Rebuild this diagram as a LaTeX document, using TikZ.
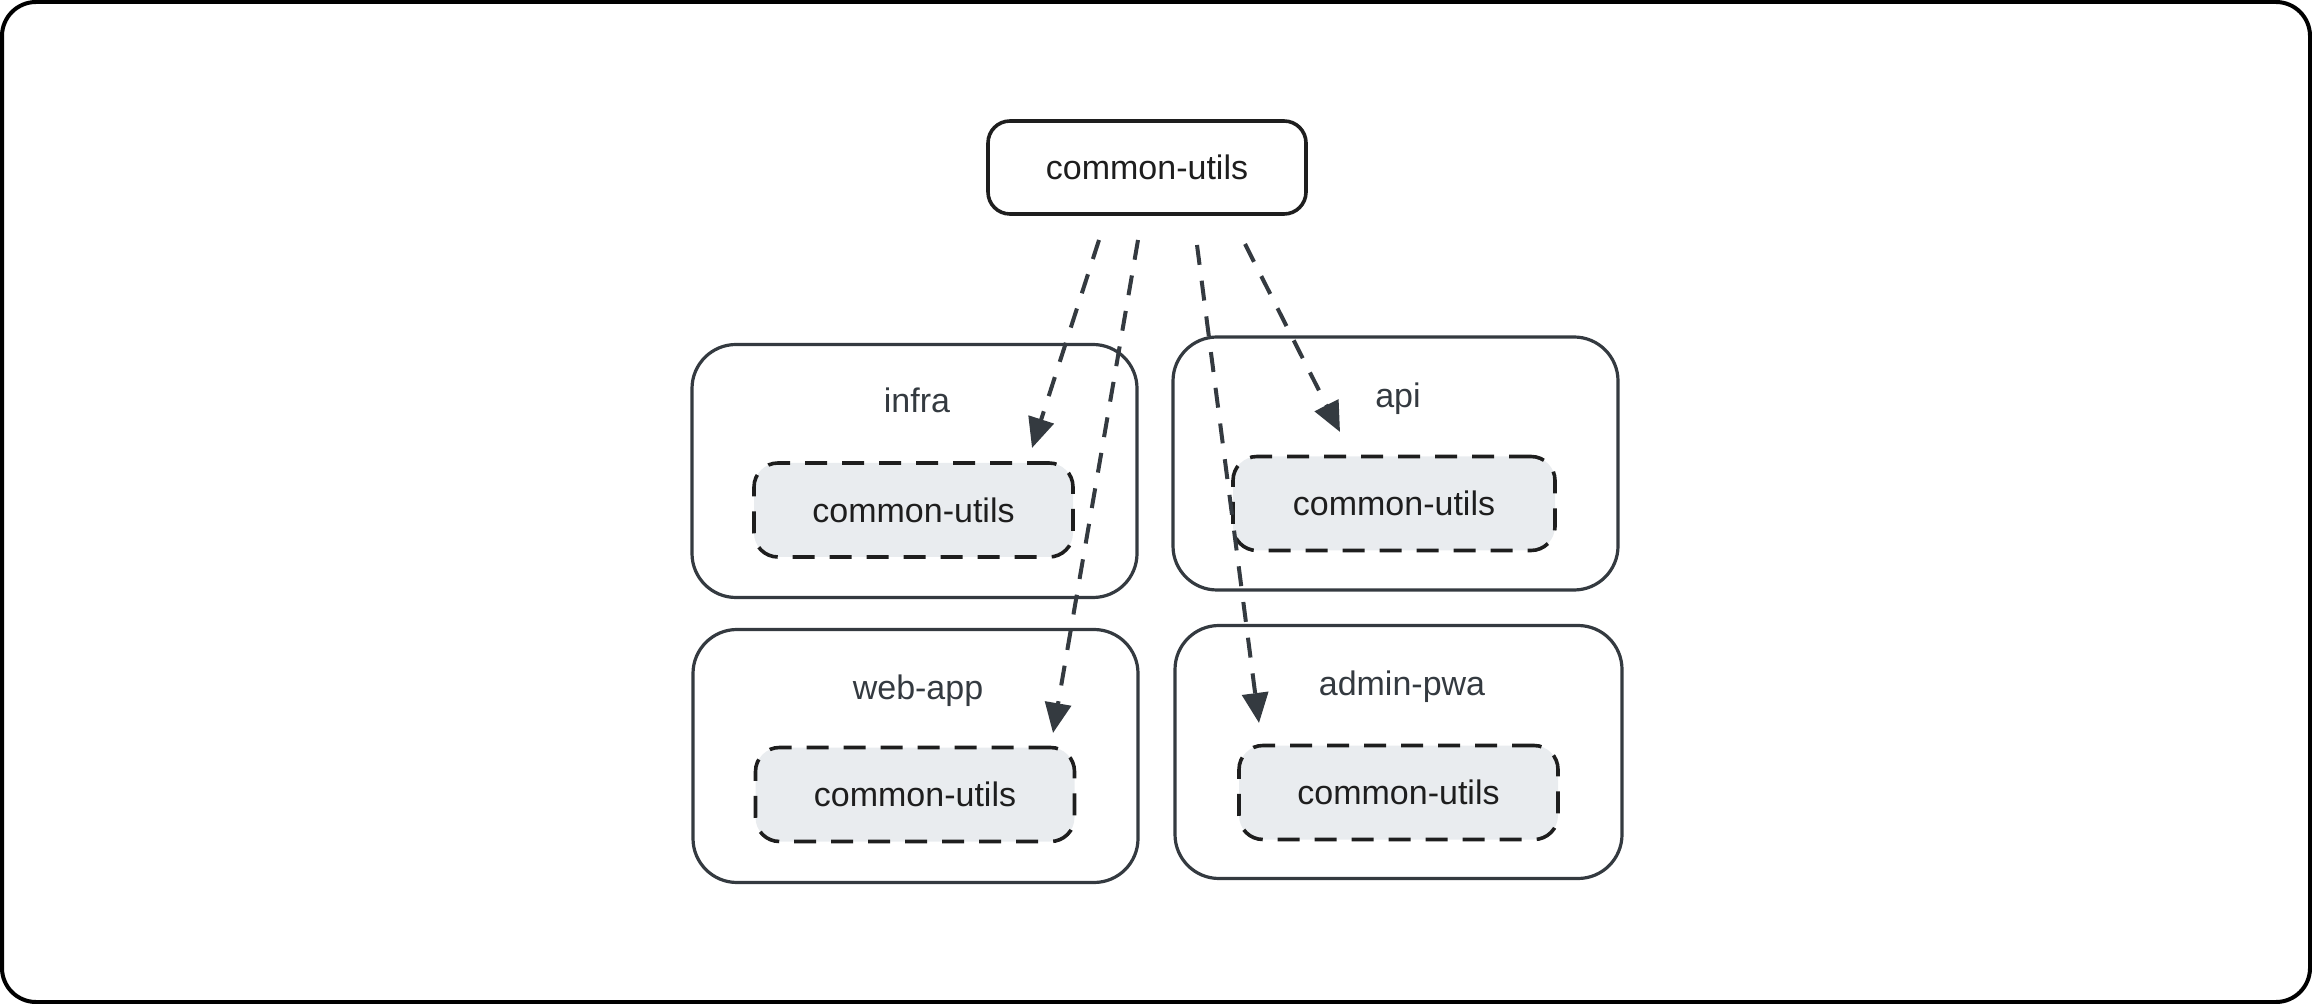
\documentclass[tikz,border=0pt]{standalone}
\usepackage{fontspec}
\setmainfont{Liberation Sans}
\usetikzlibrary{arrows.meta}
\definecolor{slate}{HTML}{343A40}
\definecolor{ink}{HTML}{1E1E1E}
\definecolor{pale}{HTML}{E9ECEF}
\begin{document}
\begin{tikzpicture}[x=0.5pt,y=-0.5pt,
  frame/.style={draw=black, line width=2pt, rounded corners=17pt},
  pkg/.style={draw=slate, line width=1.6pt, rounded corners=22pt, minimum width=222.5pt, minimum height=126.5pt, inner sep=0pt},
  topbox/.style={draw=ink, line width=1.8pt, rounded corners=11pt, minimum width=159pt, minimum height=46.5pt, inner sep=0pt, font=\fontsize{17}{20}\selectfont, text=ink},
  dep/.style={draw=ink, fill=pale, line width=1.8pt, dash pattern=on 11pt off 7.5pt, rounded corners=12pt, minimum width=159.5pt, minimum height=47pt, inner sep=0pt, font=\fontsize{17}{20}\selectfont, text=ink},
  lbl/.style={anchor=base, text=slate, font=\fontsize{17}{20}\selectfont},
  link/.style={draw=slate, line width=2pt, dash pattern=on 10pt off 8pt, -{Triangle[length=15pt,width=13pt]}}
]
\useasboundingbox (0,0) rectangle (2312,1004);
\draw[frame] (2,2) rectangle (2310,1002);

% package boxes
\node[pkg] (infra) at (914.5,471) {};
\node[pkg] (api) at (1395.5,463.5) {};
\node[pkg] (web) at (915.5,756) {};
\node[pkg, minimum width=223.5pt] (admin) at (1398.5,752) {};

% labels
\node[lbl] (linfra) at (917,413) {infra};
\node[lbl] (lapi) at (1398,408) {api};
\node[lbl] (lweb) at (918,700) {web-app};
\node[lbl] (ladmin) at (1402,696) {admin-pwa};

% dependency copies
\node[dep] (cinfra) at (913.5,510) {common-utils};
\node[dep, minimum width=161pt] (capi) at (1394,503.5) {common-utils};
\node[dep] (cweb) at (915,794.5) {common-utils};
\node[dep] (cadmin) at (1398.5,792.5) {common-utils};

% source
\node[topbox] (top) at (1147,167.5) {common-utils};

% connector ends
\coordinate (s1) at (1099,240);
\coordinate (s2) at (1138,240);
\coordinate (s3) at (1197,245);
\coordinate (s4) at (1245,244);
\coordinate (e1) at (1032,448);
\coordinate (e2) at (1053,733);
\coordinate (e3) at (1259,723);
\coordinate (e4) at (1340,432);

\draw[link] (s1) -- (e1);
\draw[link] (s2) -- (e2);
\draw[link] (s3) -- (e3);
\draw[link] (s4) -- (e4);
\end{tikzpicture}
\end{document}
